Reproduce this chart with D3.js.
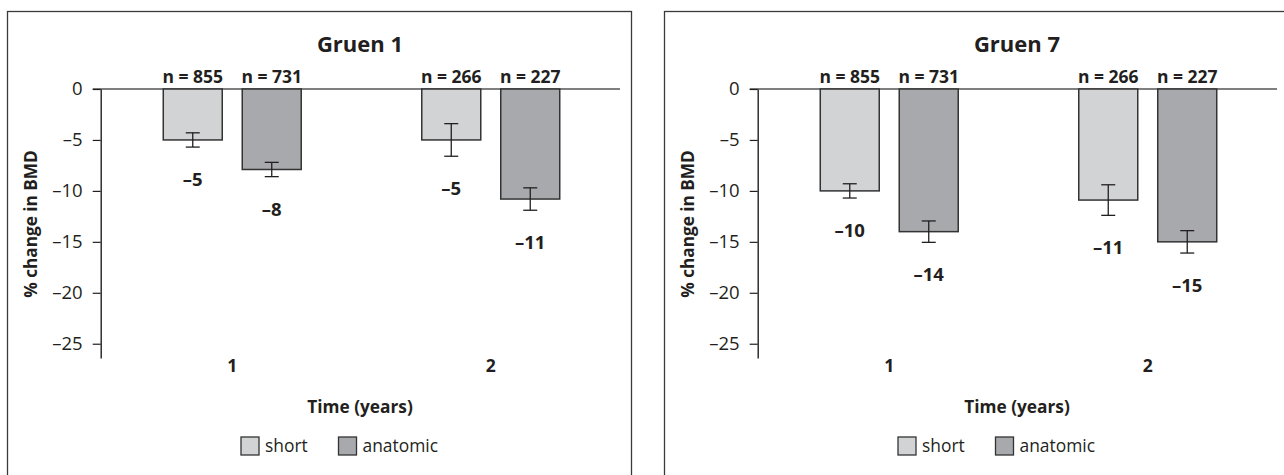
<!DOCTYPE html>
<html>
<head>
<meta charset="utf-8">
<script src="https://cdn.jsdelivr.net/npm/d3@7"></script>
<style>
  html, body { margin: 0; padding: 0; background: #fff; }
  svg { display: block; }
  text { font-family: "Open Sans", "DejaVu Sans", sans-serif; fill: #231f20; }
</style>
</head>
<body>
<svg id="chart" width="1284" height="475"></svg>
<script>
// ---------- data ----------
const years = ["1", "2"];
const seriesNames = ["short", "anatomic"];
const seriesColors = ["#d1d3d4", "#a7a9ac"];
const yTicks = [0, -5, -10, -15, -20, -25];

const panelTitles = ["Gruen 1", "Gruen 7"];

// Gruen 1
const gruen1Short = [-5, -5];
const gruen1ShortErr = [0.7, 1.6];
const gruen1Anatomic = [-7.9, -10.8];
const gruen1AnatomicErr = [0.7, 1.1];

// Gruen 7
const gruen7Short = [-10, -10.9];
const gruen7ShortErr = [0.7, 1.5];
const gruen7Anatomic = [-14, -15];
const gruen7AnatomicErr = [1.05, 1.1];

// sample sizes (same for both regions)
const nShort = [855, 266];
const nAnatomic = [731, 227];

const yLabel = "% change in BMD";
const xLabel = "Time (years)";

// ---------- drawing ----------
const svg = d3.select("#chart");
const dash = v => (v < 0 ? "\u2013" + Math.abs(v) : String(v));

const panels = [
  { title: panelTitles[0], vals: [gruen1Short, gruen1Anatomic], errs: [gruen1ShortErr, gruen1AnatomicErr] },
  { title: panelTitles[1], vals: [gruen7Short, gruen7Anatomic], errs: [gruen7ShortErr, gruen7AnatomicErr] }
];
const nVals = [nShort, nAnatomic];

panels.forEach((p, pi) => {
  const ox = 7 + pi * 657;
  const g = svg.append("g").attr("transform", `translate(${ox},0)`);

  // frame
  g.append("rect")
    .attr("x", 0.5).attr("y", 11.5)
    .attr("width", 624).attr("height", 500)
    .attr("fill", "none").attr("stroke", "#3a3a3a").attr("stroke-width", 1.3);

  const axX = 93.7;
  const y = d3.scaleLinear().domain([0, -26.4]).range([89, 358]);
  const x0 = d3.scaleBand().domain(years).range([96, 613]).padding(0);
  const x1 = d3.scaleBand().domain(seriesNames).range([0, x0.bandwidth()])
    .paddingInner(20 / 79).paddingOuter(0.763);

  // zero line
  g.append("line")
    .attr("x1", axX - 8).attr("x2", 613)
    .attr("y1", y(0)).attr("y2", y(0))
    .attr("stroke", "#555").attr("stroke-width", 1.3);

  // y axis
  const yAxis = d3.axisLeft(y).tickValues(yTicks).tickFormat(dash)
    .tickSizeOuter(0).tickSizeInner(8).tickPadding(10);
  const ga = g.append("g").attr("transform", `translate(${axX},0)`).call(yAxis);
  ga.select(".domain").attr("stroke", "#231f20").attr("stroke-width", 1.4);
  ga.selectAll(".tick line").attr("stroke", "#231f20").attr("stroke-width", 1.2);
  ga.selectAll(".tick text")
    .attr("fill", "#231f20")
    .style("font-family", '"Open Sans", sans-serif')
    .style("font-size", "18.5px");

  // bars
  seriesNames.forEach((s, si) => {
    const vals = p.vals[si], errs = p.errs[si];
    years.forEach((yr, yi) => {
      const v = vals[yi], e = errs[yi];
      const bx = x0(yr) + x1(s);
      const bw = x1.bandwidth();
      const cx = bx + bw / 2;
      g.append("rect")
        .attr("x", bx).attr("y", y(0))
        .attr("width", bw).attr("height", y(v) - y(0))
        .attr("fill", seriesColors[si])
        .attr("stroke", "#333").attr("stroke-width", 1.5);
      // error bar
      const eg = g.append("g").attr("stroke", "#231f20").attr("stroke-width", 1.3);
      eg.append("line").attr("x1", cx).attr("x2", cx).attr("y1", y(v + e)).attr("y2", y(v - e));
      eg.append("line").attr("x1", cx - 7).attr("x2", cx + 7).attr("y1", y(v + e)).attr("y2", y(v + e));
      eg.append("line").attr("x1", cx - 7).attr("x2", cx + 7).attr("y1", y(v - e)).attr("y2", y(v - e));
      // value label
      g.append("text")
        .attr("x", cx).attr("y", y(v - e) + 39)
        .attr("text-anchor", "middle")
        .style("font-size", "18.5px").style("font-weight", "bold")
        .text(dash(Math.round(v)));
      // n label
      g.append("text")
        .attr("x", cx).attr("y", 83)
        .attr("text-anchor", "middle")
        .style("font-size", "17.5px").style("font-weight", "bold")
        .text("n = " + nVals[si][yi]);
    });
  });

  // category labels
  years.forEach(yr => {
    g.append("text")
      .attr("x", x0(yr) + x0.bandwidth() / 2).attr("y", 372)
      .attr("text-anchor", "middle")
      .style("font-size", "17.5px").style("font-weight", "bold")
      .text(yr);
  });

  // title
  g.append("text")
    .attr("x", 353).attr("y", 52)
    .attr("text-anchor", "middle")
    .style("font-size", "22px").style("font-weight", "bold")
    .text(p.title);

  // x label
  g.append("text")
    .attr("x", 353).attr("y", 413)
    .attr("text-anchor", "middle")
    .style("font-size", "17.3px").style("font-weight", "bold")
    .text(xLabel);

  // y label
  g.append("text")
    .attr("transform", `translate(30,224) rotate(-90)`)
    .attr("text-anchor", "middle")
    .style("font-size", "17.2px").style("font-weight", "bold")
    .text(yLabel);

  // legend
  const lg = g.append("g");
  const legX = [234, 331.5];
  seriesNames.forEach((s, si) => {
    lg.append("rect")
      .attr("x", legX[si]).attr("y", 437)
      .attr("width", 18).attr("height", 18)
      .attr("fill", seriesColors[si])
      .attr("stroke", "#333").attr("stroke-width", 1.3);
    lg.append("text")
      .attr("x", legX[si] + 24).attr("y", 452)
      .style("font-size", "17.4px")
      .text(s);
  });
});
</script>
</body>
</html>
